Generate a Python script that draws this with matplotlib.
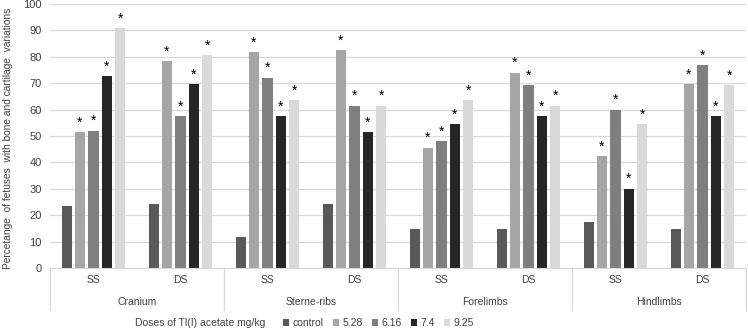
import matplotlib
matplotlib.use("Agg")
import matplotlib.pyplot as plt
import numpy as np
from matplotlib.patches import Patch
from matplotlib.lines import Line2D

plt.rcParams['font.family'] = ['Liberation Sans', 'DejaVu Sans']

categories = ["Cranium", "Sterne-ribs", "Forelimbs", "Hindlimbs"]
subgroups = ["SS", "DS"]
doses = ["control", "5.28", "6.16", "7.4", "9.25"]
colors = ["#595959", "#a6a6a6", "#7f7f7f", "#262626", "#d9d9d9"]

# values per dose, over groups: Cranium SS, DS, Sterne-ribs SS, DS, Forelimbs SS, DS, Hindlimbs SS, DS
control = [23.5, 24.2, 11.8, 24.2, 14.7, 14.7, 17.6, 14.7]
d528 = [51.5, 78.3, 81.8, 82.6, 45.5, 73.9, 42.4, 69.6]
d616 = [52.0, 57.6, 72.0, 61.5, 48.0, 69.2, 60.0, 76.9]
d74 = [72.7, 69.7, 57.6, 51.5, 54.5, 57.6, 30.0, 57.6]
d925 = [90.9, 80.6, 63.6, 61.5, 63.6, 61.5, 54.5, 69.2]
series = [control, d528, d616, d74, d925]
# significance marks (control not marked)
starred = [False, True, True, True, True]

W, H = 748, 332
fig = plt.figure(figsize=(W / 100, H / 100), dpi=100)
ax = fig.add_axes([50 / W, (H - 268) / H, (746 - 50) / W, (268 - 4) / H])

n_groups = len(control)
x = np.arange(n_groups)
step = 0.155
width = 0.115
for i, (vals, col) in enumerate(zip(series, colors)):
    pos = x + (i - 2) * step
    ax.bar(pos, vals, width=width, color=col, zorder=2)
    if starred[i]:
        for p, v in zip(pos, vals):
            ax.text(p, v + 1.0, "*", ha="center", va="bottom", fontsize=10, color="black")

ax.set_xlim(-0.5, n_groups - 0.5)
ax.set_ylim(0, 100)
ax.set_yticks(np.arange(0, 101, 10))
ax.tick_params(axis="y", length=0, labelsize=8, colors="#404040", pad=6)
ax.tick_params(axis="x", length=0, labelbottom=False)
ax.yaxis.grid(True, color="#d9d9d9", linewidth=0.9, zorder=0)
ax.set_axisbelow(True)
for s in ["top", "right", "left"]:
    ax.spines[s].set_visible(False)
ax.spines["bottom"].set_color("#d9d9d9")

fig.text(8 / W, 1 - 138 / H, "Percetange  of fetuses  with bone and cartilage  variations",
         rotation=90, fontsize=7.3, color="#404040", ha="center", va="center")

# category axis
trans = ax.get_xaxis_transform()
for g in range(n_groups):
    ax.text(x[g], -0.045, subgroups[g % 2], transform=trans, ha="center", va="center", fontsize=7.5, color="#404040")
for c in range(len(categories)):
    ax.text(2 * c + 0.5, -0.13, categories[c], transform=trans, ha="center", va="center", fontsize=7.5, color="#404040")
for b in range(len(categories) + 1):
    ax.add_line(Line2D([2 * b - 0.5, 2 * b - 0.5], [0, -0.16], transform=trans, color="#d9d9d9", lw=0.9, clip_on=False))

# legend
fig.text(135 / W, 1 - 323 / H, "Doses of Tl(I) acetate mg/kg", fontsize=7.5, color="#404040", va="center", ha="left")
handles = [Patch(facecolor=c, edgecolor="none") for c in colors]
fig.legend(handles, doses, ncol=5, loc="center left", bbox_to_anchor=(283 / W, 1 - 323 / H),
           frameon=False, fontsize=7.5, handlelength=0.6, handleheight=0.6, handletextpad=0.3,
           columnspacing=0.9, labelcolor="#404040", borderaxespad=0, borderpad=0)

fig.savefig("out.png", dpi=100)
